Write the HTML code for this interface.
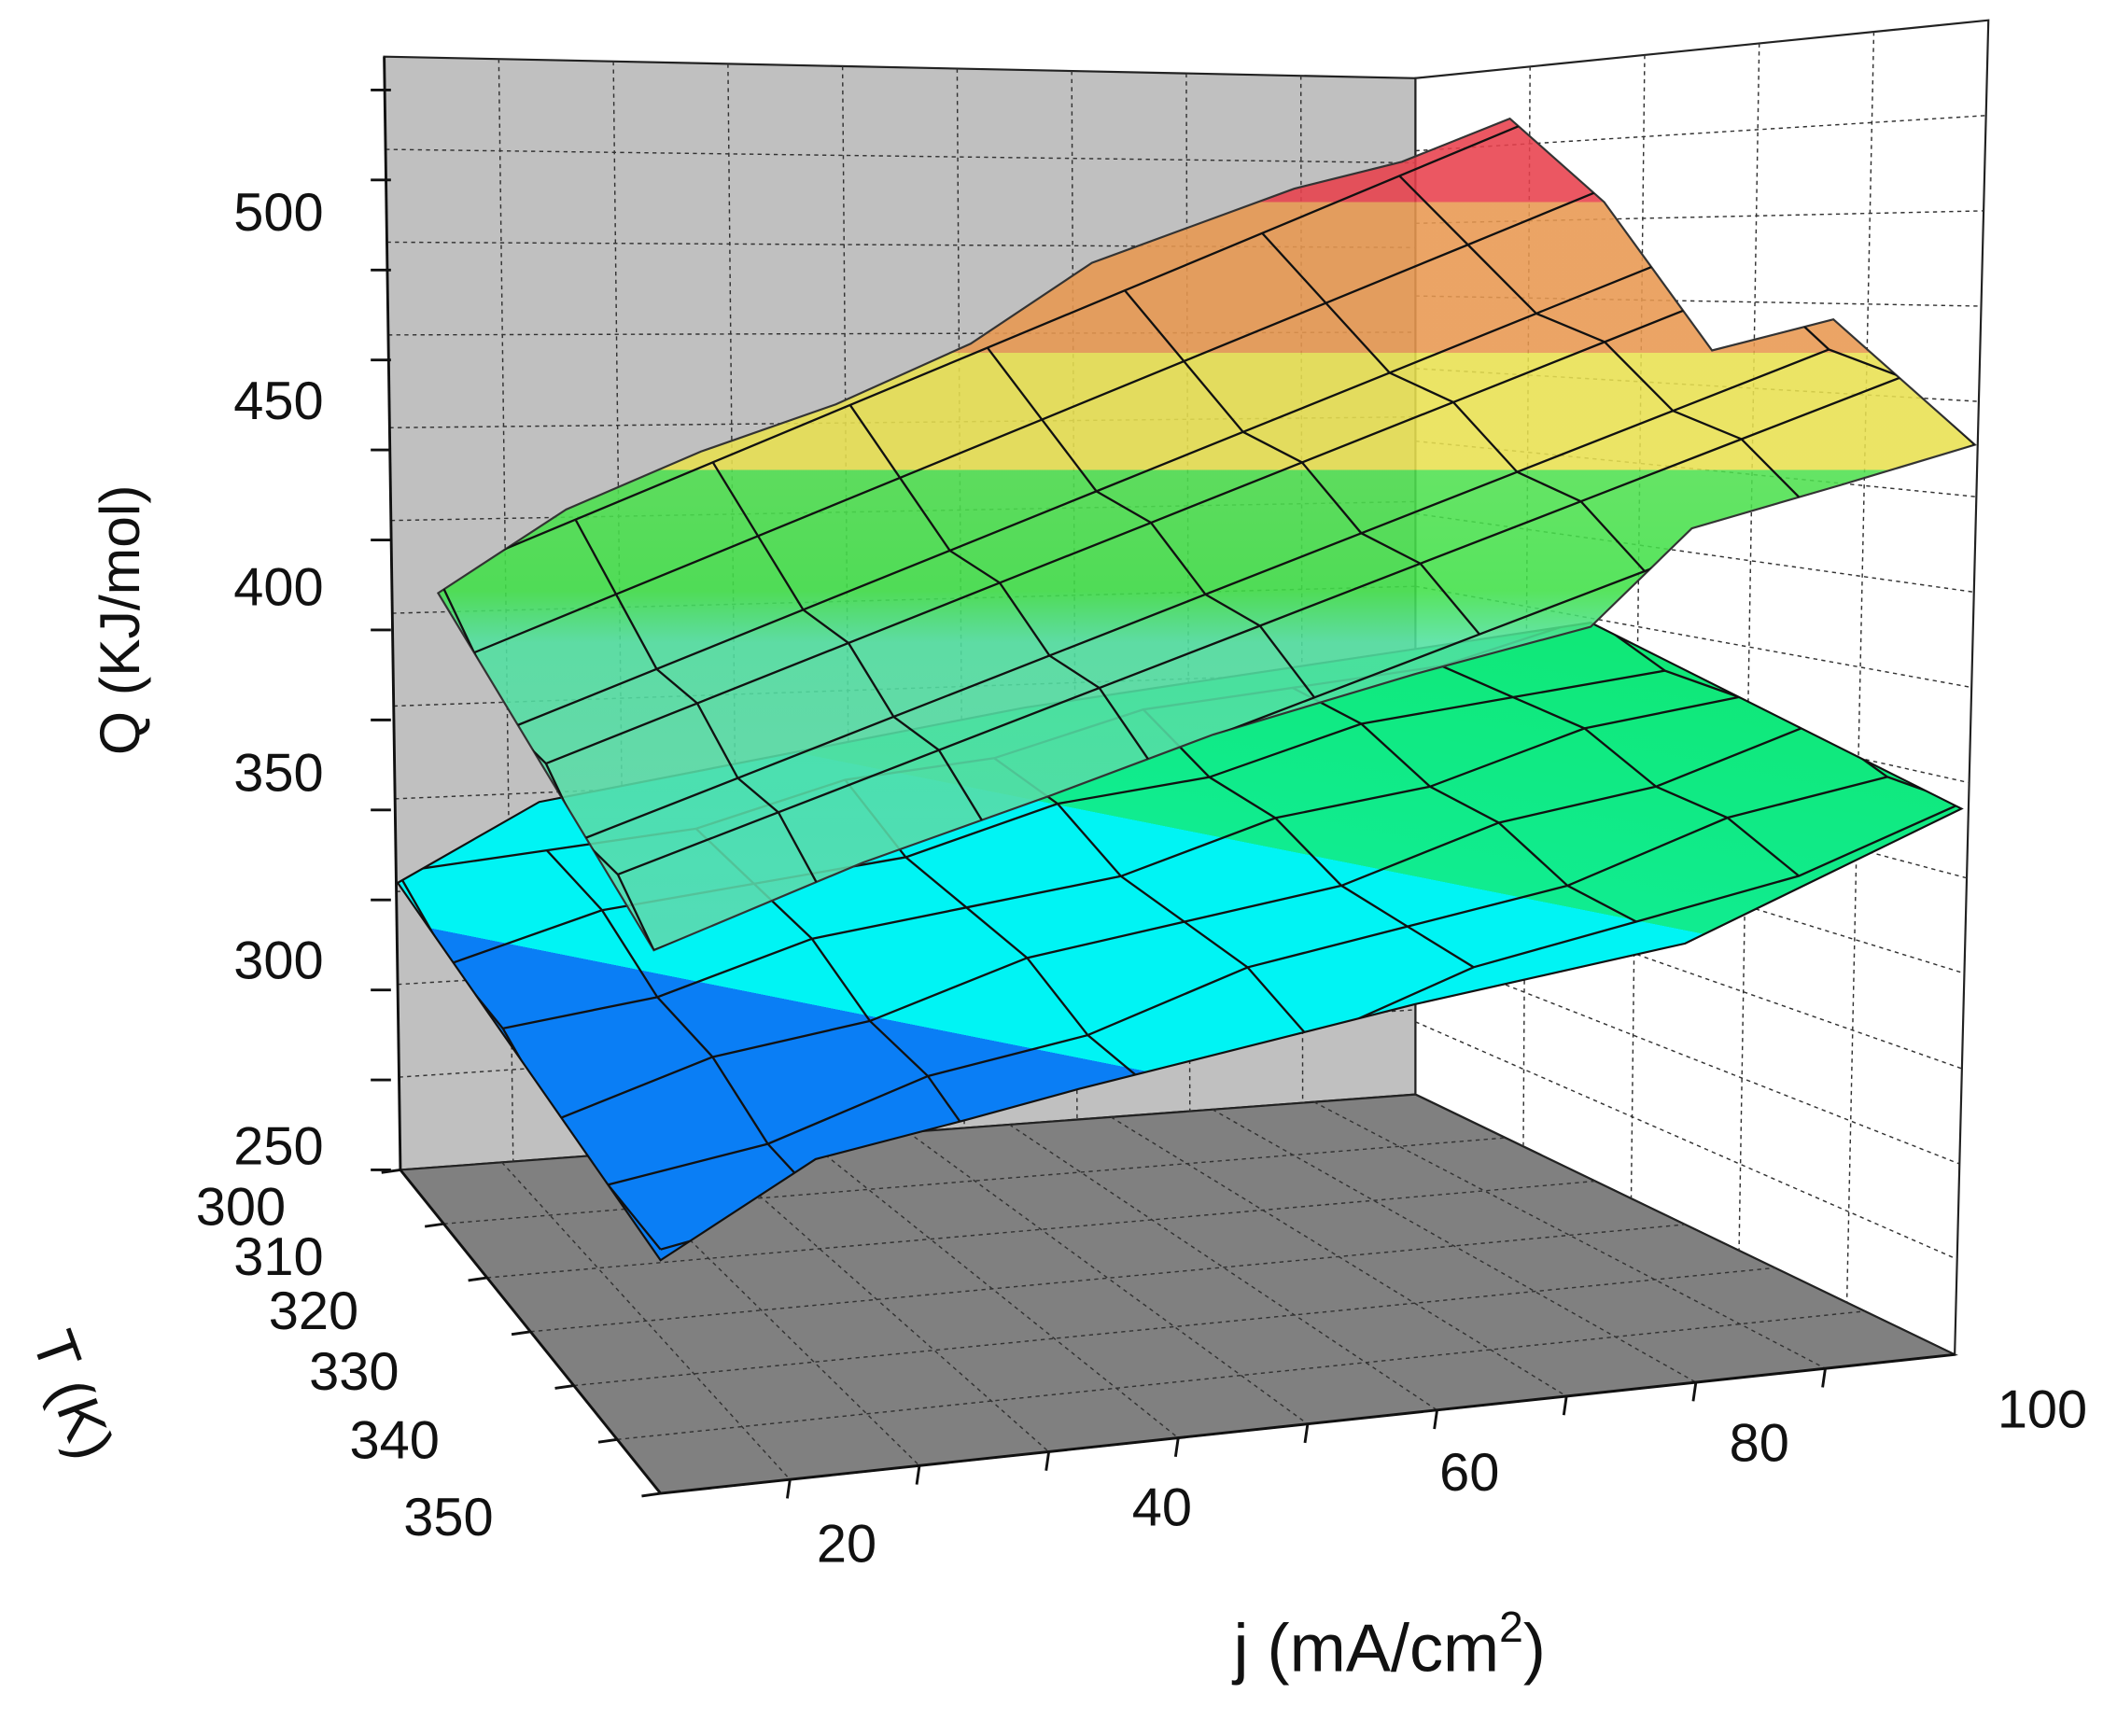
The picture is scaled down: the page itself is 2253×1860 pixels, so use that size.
<!DOCTYPE html>
<html><head><meta charset="utf-8"><style>
html,body{margin:0;padding:0;background:#fff}
svg{display:block}
text{font-family:"Liberation Sans",Arial,sans-serif;fill:#111}
</style></head><body>
<svg id="s" width="2253" height="1860" viewBox="0 0 1560 1288" preserveAspectRatio="none" xmlns="http://www.w3.org/2000/svg">
<defs>
<linearGradient id="gu" gradientUnits="userSpaceOnUse" x1="0" y1="80" x2="0" y2="720">
<stop offset="0" stop-color="#e8404c"/><stop offset="0.109" stop-color="#e8404c"/>
<stop offset="0.109" stop-color="#e89850"/><stop offset="0.284" stop-color="#e89850"/>
<stop offset="0.284" stop-color="#e8e050"/><stop offset="0.42" stop-color="#e8e050"/>
<stop offset="0.42" stop-color="#50e050"/><stop offset="0.56" stop-color="#40e048"/>
<stop offset="0.62" stop-color="#50e0a0"/><stop offset="1" stop-color="#60d8b0"/>
</linearGradient>
<linearGradient id="gl" gradientUnits="userSpaceOnUse" x1="800" y1="400" x2="700" y2="900">
<stop offset="0" stop-color="#10e878"/><stop offset="0.385" stop-color="#10ec90"/>
<stop offset="0.385" stop-color="#00f4f4"/><stop offset="0.74" stop-color="#00f4f4"/>
<stop offset="0.74" stop-color="#0a7ef5"/><stop offset="1" stop-color="#0a7ef5"/>
</linearGradient>
<clipPath id="cl"><polygon points="490,935 605,860 720,830 800,808 1050,745 1250,700 1455,600 1180,462 760,525 400,595 295,655"/></clipPath>
<clipPath id="cu"><polygon points="485,705 640,640 780,590 900,545 1050,500 1180,465 1255,392 1365,360 1465,330 1360,237 1270,260 1190,150 1120,88 1040,120 960,140 810,195 720,255 620,300 520,335 420,378 325,440"/></clipPath>
</defs>
<polygon points="285,42 1050,58 1050,812 297,868" fill="#c0c0c0" stroke="#222" stroke-width="1.5"/>
<polygon points="1050,58 1475,15 1450,1005 1050,812" fill="#fff" stroke="#222" stroke-width="1.5"/>
<polygon points="297,868 1050,812 1450,1005 490,1108" fill="#808080" stroke="#222" stroke-width="1.5"/>
<g id="grids" stroke="#333" stroke-width="1" stroke-dasharray="3,3" fill="none"></g>
<polygon id="low" fill="url(#gl)" stroke="#111" stroke-width="1.5"
 points="490,935 605,860 720,830 800,808 1050,745 1250,700 1455,600 1180,462 760,525 400,595 295,655"/>
<g id="lowmesh" stroke="#111" stroke-width="1.6" fill="none" clip-path="url(#cl)"></g>
<polygon id="up" fill="url(#gu)" fill-opacity="0.88" stroke="#333" stroke-width="1.5"
 points="485,705 640,640 780,590 900,545 1050,500 1180,465 1255,392 1365,360 1465,330 1360,237 1270,260 1190,150 1120,88 1040,120 960,140 810,195 720,255 620,300 520,335 420,378 325,440"/>
<g id="upmesh" stroke="#111" stroke-width="1.6" fill="none" clip-path="url(#cu)"></g>
<line x1="297" y1="868" x2="285" y2="42" stroke="#111" stroke-width="2"/>
<line x1="297" y1="868" x2="490" y2="1108" stroke="#111" stroke-width="2"/>
<line x1="490" y1="1108" x2="1450" y2="1005" stroke="#111" stroke-width="2"/>
<g id="ticks" stroke="#111" stroke-width="2"></g>
<g font-size="40" text-anchor="end">
<text x="240" y="171">500</text><text x="240" y="311">450</text><text x="240" y="449">400</text>
<text x="240" y="587">350</text><text x="240" y="726">300</text><text x="240" y="864">250</text>
<text x="212" y="909">300</text><text x="240" y="946">310</text><text x="266" y="986">320</text>
<text x="296" y="1031">330</text><text x="326" y="1082">340</text><text x="366" y="1139">350</text>
</g>
<g font-size="40" text-anchor="middle">
<text x="628" y="1159">20</text><text x="862" y="1132">40</text><text x="1090" y="1106">60</text>
<text x="1305" y="1084">80</text><text x="1515" y="1059">100</text>
</g>
<text font-size="42" transform="translate(103,460) rotate(-90)" text-anchor="middle">Q (KJ/mol)</text>
<text font-size="44" transform="translate(40,1040) rotate(70)" text-anchor="middle">T (K)</text>
<text font-size="50" x="915" y="1240">j (mA/cm<tspan font-size="32" dy="-22">2</tspan><tspan dy="22">)</tspan></text>
</svg>
<script>
var NS="http://www.w3.org/2000/svg";
function bl(A,B,C,D,u,v){return [(1-u)*(1-v)*A[0]+u*(1-v)*B[0]+u*v*C[0]+(1-u)*v*D[0],(1-u)*(1-v)*A[1]+u*(1-v)*B[1]+u*v*C[1]+(1-u)*v*D[1]];}
function line(g,p,q){var l=document.createElementNS(NS,"line");l.setAttribute("x1",p[0]);l.setAttribute("y1",p[1]);l.setAttribute("x2",q[0]);l.setAttribute("y2",q[1]);g.appendChild(l);}
function poly(g,pts){var l=document.createElementNS(NS,"polyline");l.setAttribute("points",pts.map(function(p){return p[0].toFixed(1)+","+p[1].toFixed(1)}).join(" "));g.appendChild(l);}
function grid(g,A,B,C,D,nu,nv){for(var i=1;i<nu;i++){line(g,bl(A,B,C,D,i/nu,0),bl(A,B,C,D,i/nu,1));}for(var j=1;j<nv;j++){line(g,bl(A,B,C,D,0,j/nv),bl(A,B,C,D,1,j/nv));}}
var G=document.getElementById("grids");
grid(G,[285,42],[1050,58],[1050,812],[297,868],9,12);
grid(G,[1050,58],[1475,15],[1450,1005],[1050,812],5,14);
grid(G,[297,868],[1050,812],[1450,1005],[490,1108],10,6);
function mesh(g,A,B,C,D,n,m,bump){for(var i=0;i<=n;i++){var p=[];for(var j=0;j<=m;j++){var q=bl(A,B,C,D,i/n,j/m);q[1]+=bump(i,j);p.push(q);}poly(g,p);}
for(var j=0;j<=m;j++){var p=[];for(var i=0;i<=n;i++){var q=bl(A,B,C,D,i/n,j/m);q[1]+=bump(i,j);p.push(q);}poly(g,p);}}
mesh(document.getElementById("lowmesh"),[295,655],[1180,462],[1455,600],[490,935],8,5,function(i,j){return ((i*7+j*3)%5-2)*4;});
mesh(document.getElementById("upmesh"),[325,440],[1140,100],[1465,330],[485,705],8,6,function(i,j){return ((i*5+j*7)%5-2)*6;});
var T=document.getElementById("ticks");
for(var k=0;k<=12;k++){var y=868-k*(868-42)/12*0.97;line(T,[275,y],[290,y]);}
for(var k=0;k<=6;k++){var p=bl([297,868],[297,868],[490,1108],[490,1108],0,k/6);line(T,[p[0]-14,p[1]+2],p);}
for(var k=1;k<=9;k++){var u=k/10;var p=[490+(1450-490)*u,1108+(1005-1108)*u];line(T,p,[p[0]-2,p[1]+14]);}
</script>
</body></html>
